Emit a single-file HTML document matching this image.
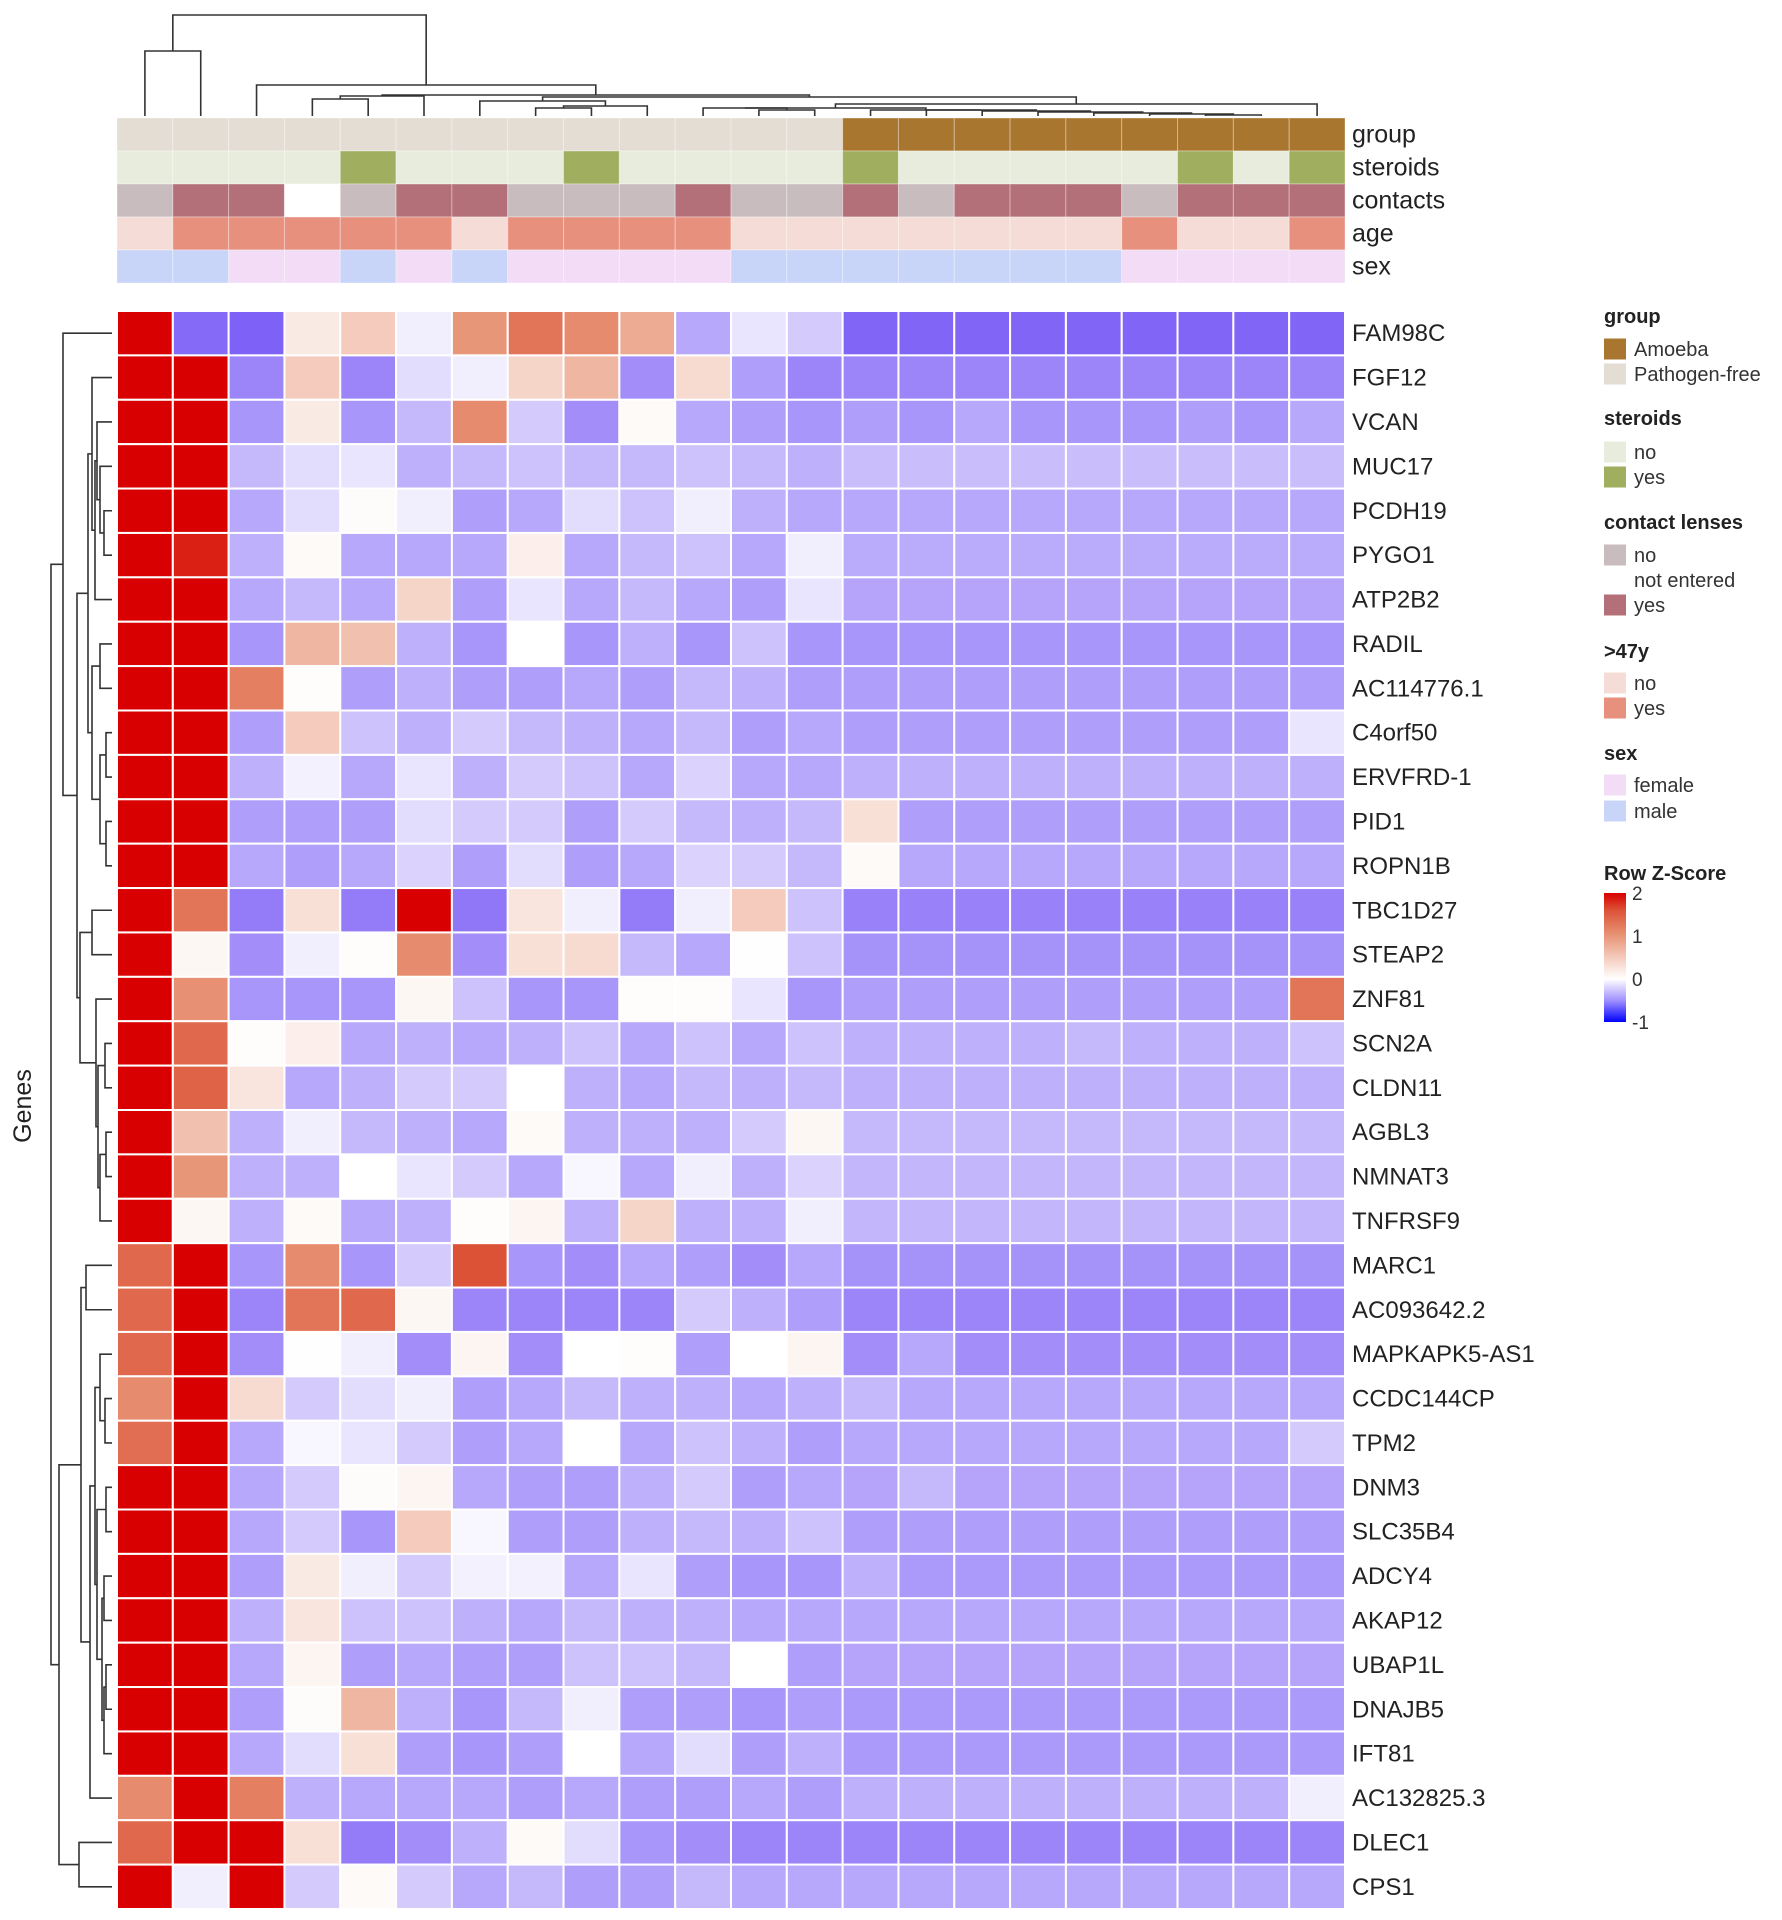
<!DOCTYPE html>
<html><head><meta charset="utf-8"><style>
html,body{margin:0;padding:0;background:#fff;}
svg{display:block;font-family:"Liberation Sans",Arial,sans-serif;}
</style></head><body>
<svg id="chart" width="1782" height="1920" viewBox="0 0 1782 1920" xmlns="http://www.w3.org/2000/svg"></svg>
<script>
const genes = ["FAM98C","FGF12","VCAN","MUC17","PCDH19","PYGO1","ATP2B2","RADIL","AC114776.1","C4orf50","ERVFRD-1","PID1","ROPN1B","TBC1D27","STEAP2","ZNF81","SCN2A","CLDN11","AGBL3","NMNAT3","TNFRSF9","MARC1","AC093642.2","MAPKAPK5-AS1","CCDC144CP","TPM2","DNM3","SLC35B4","ADCY4","AKAP12","UBAP1L","DNAJB5","IFT81","AC132825.3","DLEC1","CPS1"];
const z = [
[2,-0.85,-0.9,0.2,0.5,-0.1,1.0,1.3,1.1,0.8,-0.5,-0.15,-0.3,-0.88,-0.88,-0.88,-0.88,-0.88,-0.88,-0.88,-0.88,-0.88],
[2,2,-0.7,0.5,-0.7,-0.2,-0.1,0.4,0.7,-0.65,0.35,-0.55,-0.7,-0.7,-0.7,-0.7,-0.7,-0.7,-0.7,-0.7,-0.7,-0.7],
[2,2,-0.6,0.2,-0.6,-0.4,1.1,-0.3,-0.65,0.05,-0.5,-0.55,-0.6,-0.55,-0.6,-0.5,-0.6,-0.6,-0.6,-0.55,-0.6,-0.5],
[2,2,-0.4,-0.2,-0.15,-0.45,-0.4,-0.35,-0.4,-0.4,-0.35,-0.4,-0.45,-0.38,-0.38,-0.38,-0.38,-0.38,-0.38,-0.38,-0.38,-0.38],
[2,2,-0.5,-0.2,0.03,-0.1,-0.55,-0.5,-0.2,-0.35,-0.1,-0.45,-0.5,-0.5,-0.5,-0.5,-0.5,-0.5,-0.5,-0.5,-0.5,-0.5],
[2,1.85,-0.45,0.05,-0.5,-0.5,-0.5,0.15,-0.5,-0.4,-0.35,-0.5,-0.1,-0.48,-0.48,-0.48,-0.48,-0.48,-0.48,-0.48,-0.48,-0.48],
[2,2,-0.5,-0.4,-0.5,0.4,-0.55,-0.15,-0.5,-0.4,-0.5,-0.55,-0.15,-0.52,-0.52,-0.52,-0.52,-0.52,-0.52,-0.52,-0.52,-0.52],
[2,2,-0.6,0.7,0.6,-0.45,-0.6,0,-0.6,-0.45,-0.6,-0.35,-0.6,-0.6,-0.6,-0.6,-0.6,-0.6,-0.6,-0.6,-0.6,-0.6],
[2,2,1.2,0.02,-0.55,-0.45,-0.55,-0.55,-0.5,-0.55,-0.4,-0.45,-0.55,-0.55,-0.55,-0.55,-0.55,-0.55,-0.55,-0.55,-0.55,-0.55],
[2,2,-0.55,0.5,-0.35,-0.45,-0.3,-0.4,-0.45,-0.5,-0.4,-0.55,-0.5,-0.55,-0.55,-0.55,-0.55,-0.55,-0.55,-0.55,-0.55,-0.15],
[2,2,-0.45,-0.08,-0.5,-0.15,-0.45,-0.3,-0.35,-0.5,-0.25,-0.5,-0.5,-0.45,-0.45,-0.45,-0.45,-0.45,-0.45,-0.45,-0.45,-0.45],
[2,2,-0.55,-0.55,-0.55,-0.2,-0.3,-0.3,-0.55,-0.3,-0.4,-0.45,-0.4,0.3,-0.55,-0.55,-0.55,-0.55,-0.55,-0.55,-0.55,-0.55],
[2,2,-0.5,-0.55,-0.5,-0.25,-0.55,-0.2,-0.55,-0.5,-0.25,-0.3,-0.4,0.05,-0.5,-0.5,-0.5,-0.5,-0.5,-0.5,-0.5,-0.5],
[2,1.3,-0.75,0.3,-0.75,2.1,-0.78,0.25,-0.1,-0.75,-0.1,0.5,-0.35,-0.72,-0.72,-0.72,-0.72,-0.72,-0.72,-0.72,-0.72,-0.72],
[2,0.08,-0.65,-0.1,0.02,1.1,-0.65,0.3,0.35,-0.4,-0.5,0.01,-0.35,-0.62,-0.62,-0.62,-0.62,-0.62,-0.62,-0.62,-0.62,-0.62],
[2,1.05,-0.6,-0.6,-0.6,0.08,-0.35,-0.6,-0.6,0.02,0.02,-0.15,-0.6,-0.55,-0.55,-0.55,-0.55,-0.55,-0.55,-0.55,-0.55,1.3],
[2,1.4,0.02,0.15,-0.5,-0.45,-0.5,-0.45,-0.35,-0.5,-0.35,-0.5,-0.35,-0.45,-0.45,-0.45,-0.45,-0.4,-0.45,-0.45,-0.45,-0.35],
[2,1.45,0.25,-0.5,-0.45,-0.3,-0.3,0,-0.45,-0.5,-0.4,-0.45,-0.4,-0.45,-0.45,-0.45,-0.45,-0.45,-0.45,-0.45,-0.45,-0.45],
[2,0.6,-0.45,-0.1,-0.4,-0.45,-0.5,0.05,-0.45,-0.45,-0.45,-0.3,0.08,-0.4,-0.4,-0.4,-0.4,-0.4,-0.4,-0.4,-0.4,-0.4],
[2,1.0,-0.45,-0.45,0,-0.15,-0.3,-0.5,-0.05,-0.5,-0.1,-0.45,-0.25,-0.42,-0.42,-0.42,-0.42,-0.42,-0.42,-0.42,-0.42,-0.42],
[2,0.08,-0.45,0.05,-0.5,-0.45,0.02,0.1,-0.45,0.4,-0.45,-0.45,-0.1,-0.42,-0.42,-0.42,-0.42,-0.42,-0.42,-0.42,-0.42,-0.42],
[1.4,2,-0.6,1.1,-0.6,-0.3,1.6,-0.6,-0.65,-0.5,-0.55,-0.65,-0.5,-0.62,-0.62,-0.62,-0.62,-0.62,-0.62,-0.62,-0.62,-0.62],
[1.4,2,-0.7,1.3,1.4,0.08,-0.7,-0.7,-0.7,-0.7,-0.3,-0.45,-0.55,-0.7,-0.7,-0.7,-0.7,-0.7,-0.7,-0.7,-0.7,-0.7],
[1.4,2,-0.65,0.01,-0.1,-0.65,0.1,-0.65,0,0.02,-0.55,0,0.1,-0.65,-0.5,-0.65,-0.65,-0.65,-0.65,-0.65,-0.65,-0.65],
[1.1,2,0.35,-0.3,-0.2,-0.1,-0.55,-0.5,-0.4,-0.45,-0.45,-0.5,-0.45,-0.4,-0.5,-0.5,-0.5,-0.5,-0.5,-0.5,-0.5,-0.5],
[1.35,2,-0.5,-0.05,-0.15,-0.3,-0.55,-0.5,0,-0.5,-0.35,-0.45,-0.55,-0.5,-0.5,-0.5,-0.5,-0.5,-0.5,-0.5,-0.5,-0.3],
[2,2,-0.5,-0.3,0.03,0.1,-0.5,-0.55,-0.55,-0.45,-0.3,-0.55,-0.5,-0.52,-0.4,-0.52,-0.52,-0.52,-0.52,-0.52,-0.52,-0.52],
[2,2,-0.5,-0.3,-0.6,0.5,-0.05,-0.55,-0.55,-0.45,-0.4,-0.45,-0.35,-0.55,-0.55,-0.55,-0.55,-0.55,-0.55,-0.55,-0.55,-0.55],
[2,2,-0.55,0.2,-0.1,-0.3,-0.08,-0.08,-0.5,-0.15,-0.55,-0.6,-0.6,-0.45,-0.58,-0.58,-0.58,-0.58,-0.58,-0.58,-0.58,-0.58],
[2,2,-0.45,0.25,-0.35,-0.35,-0.45,-0.5,-0.4,-0.45,-0.45,-0.5,-0.5,-0.5,-0.5,-0.5,-0.5,-0.5,-0.5,-0.5,-0.5,-0.5],
[2,2,-0.5,0.1,-0.55,-0.5,-0.55,-0.55,-0.35,-0.35,-0.4,0,-0.55,-0.52,-0.52,-0.52,-0.52,-0.52,-0.52,-0.52,-0.52,-0.52],
[2,2,-0.55,0.03,0.7,-0.45,-0.6,-0.4,-0.1,-0.55,-0.55,-0.6,-0.55,-0.58,-0.58,-0.58,-0.58,-0.58,-0.58,-0.58,-0.58,-0.58],
[2,2,-0.5,-0.2,0.3,-0.55,-0.6,-0.55,0,-0.5,-0.2,-0.55,-0.45,-0.58,-0.58,-0.58,-0.58,-0.58,-0.58,-0.58,-0.58,-0.58],
[1.1,2,1.2,-0.45,-0.5,-0.5,-0.5,-0.55,-0.5,-0.55,-0.55,-0.5,-0.55,-0.45,-0.45,-0.45,-0.45,-0.45,-0.45,-0.45,-0.45,-0.1],
[1.4,2,2,0.3,-0.75,-0.65,-0.45,0.05,-0.2,-0.6,-0.65,-0.7,-0.7,-0.7,-0.7,-0.7,-0.7,-0.7,-0.7,-0.7,-0.7,-0.7],
[2,-0.1,2,-0.3,0.05,-0.3,-0.5,-0.4,-0.55,-0.55,-0.4,-0.5,-0.5,-0.5,-0.5,-0.5,-0.5,-0.5,-0.5,-0.5,-0.5,-0.5]
];
const groupAnn = ["P","P","P","P","P","P","P","P","P","P","P","P","P","A","A","A","A","A","A","A","A","A"];
const steroidAnn = ["n","n","n","n","y","n","n","n","y","n","n","n","n","y","n","n","n","n","n","y","n","y"];
const contactAnn = ["n","y","y","ne","n","y","y","n","n","n","y","n","n","y","n","y","y","y","n","y","y","y"];
const ageAnn = ["n","y","y","y","y","y","n","y","y","y","y","n","n","n","n","n","n","n","y","n","n","y"];
const sexAnn = ["m","m","f","f","m","f","m","f","f","f","f","m","m","m","m","m","m","m","f","f","f","f"];
const colorTicks = [2,1,0,-1];

const NS="http://www.w3.org/2000/svg";
const svg=document.getElementById("chart");
const X0=117, X1=1345, Y0=311, Y1=1909;
const nC=22, nR=genes.length;
const cw=(X1-X0)/nC, rh=(Y1-Y0)/nR;
const xPos=c=>X0+c*cw, yPos=r=>Y0+r*rh;
const xC=c=>X0+(c+0.5)*cw, yC=r=>Y0+(r+0.5)*rh;
function mk(tag,attrs,parent){const e=document.createElementNS(NS,tag);for(const k in attrs)e.setAttribute(k,attrs[k]);(parent||svg).appendChild(e);return e;}
function lerp(a,b,t){return a.map((v,i)=>Math.round(v+(b[i]-v)*t));}
function zColor(v){
  let c;
  if(v<=0){const t=Math.min(1,-v);c=lerp([255,255,255],[112,80,246],t);}
  else if(v<=1){c=lerp([255,255,255],[232,150,120],v);}
  else if(v<=1.6){c=lerp([232,150,120],[220,82,55],(v-1)/0.6);}
  else {c=lerp([220,82,55],[216,0,0],Math.min(1,(v-1.6)/0.4));}
  return `rgb(${c[0]},${c[1]},${c[2]})`;
}
const hm=mk("g",{});


z.forEach((row,r)=>row.forEach((v,c)=>{
  const rc=mk("rect",{x:xPos(c),y:yPos(r),width:cw,height:rh,fill:zColor(v),stroke:"#fff","stroke-width":2},hm);
  
  
}));
genes.forEach((g,r)=>{
  const t=mk("text",{x:1352,y:yC(r)+8,"font-size":24,fill:"#222"});
  t.textContent=g;
  
  
});
const annCols={
  group:{A:"#a8762e",P:"#e3ddd3"},
  steroids:{n:"#e8ecdc",y:"#9fae5f"},
  contacts:{n:"#c8bcbe",y:"#b47078",ne:"#ffffff"},
  age:{n:"#f5dcd7",y:"#e8907e"},
  sex:{m:"#c8d4f8",f:"#f2dcf6"}
};
const annRows=[["group",groupAnn],["steroids",steroidAnn],["contacts",contactAnn],["age",ageAnn],["sex",sexAnn]];
const aY0=118, ah=33;
annRows.forEach(([name,vals],i)=>{
  vals.forEach((v,c)=>{
    const rc=mk("rect",{x:xPos(c),y:aY0+i*ah,width:cw,height:ah,fill:annCols[name][v],stroke:"rgba(255,255,255,0.35)","stroke-width":1});
    
    
  });
  const t=mk("text",{x:1352,y:aY0+i*ah+ah/2+8,"font-size":25,fill:"#222"});
  t.textContent=name;
  
  
});
const colTree=[[0,1,51],[2,[[[3,4,99],5,96],[[6,[[7,8,108],9,106],101],[[[10,[11,12,110],108],[13,[14,[15,[16,[17,[18,[19,20,115],114],113],112],111],110],110],108],21,104],97],95],85],15];
const rowTree=[[0,[[[1,[[2,[3,[4,5,104],100],97],6,95],92],[[7,8,100],[[9,10,106],[11,12,106],100],92],88],[[13,14,92],[15,[[16,17,105],[[18,19,106],20,100],98],96],80],77],63],[[[21,22,86],[[[23,[24,25,105],100],[[26,27,106],[[28,29,104],[[30,31,106],32,104],102],97],95],33,90],81],[34,35,79],59],51];
const dg=mk("g",{stroke:"#333","stroke-width":1.6,fill:"none"});


function drawCol(n){
  if(typeof n==="number") return [xC(n),116];
  const a=drawCol(n[0]),b=drawCol(n[1]),h=n[2];
  mk("path",{d:`M${a[0]},${a[1]}V${h}H${b[0]}V${b[1]}`},dg);
  return [(a[0]+b[0])/2,h];
}
function drawRow(n){
  if(typeof n==="number") return [112,yC(n)];
  const a=drawRow(n[0]),b=drawRow(n[1]),h=n[2];
  mk("path",{d:`M${a[0]},${a[1]}H${h}V${b[1]}H${b[0]}`},dg);
  return [h,(a[1]+b[1])/2];
}
drawCol(colTree);drawRow(rowTree);
const gt=mk("text",{x:0,y:0,"font-size":25,fill:"#222","text-anchor":"middle",transform:"translate(31,1106) rotate(-90)"});
gt.textContent="Genes";


function legTitle(txt,y){const t=mk("text",{x:1604,y:y,"font-size":20,"font-weight":"bold",fill:"#222"});t.textContent=txt;}
function legItem(txt,col,cy){
  if(col){const s=mk("rect",{x:1604,y:cy-10.5,width:22,height:21,fill:col});}
  const t=mk("text",{x:1634,y:cy+7,"font-size":20,fill:"#333"});t.textContent=txt;
  
}
legTitle("group",323);legItem("Amoeba","#a8762e",349);legItem("Pathogen-free","#e3ddd3",374);
legTitle("steroids",425);legItem("no","#e8ecdc",452);legItem("yes","#9fae5f",477);
legTitle("contact lenses",529);legItem("no","#c8bcbe",555);legItem("not entered",null,580);legItem("yes","#b47078",605);
legTitle(">47y",658);legItem("no","#f5dcd7",683);legItem("yes","#e8907e",708);
legTitle("sex",760);legItem("female","#f2dcf6",785);legItem("male","#c8d4f8",811);
legTitle("Row Z-Score",880);
const defs=mk("defs",{});
const lg=mk("linearGradient",{id:"zg",x1:0,y1:0,x2:0,y2:1},defs);
const zTop=893,zBot=1022,zU=(zBot-zTop)/3;
[2,1.6,1,0.5,0,-0.5,-1].forEach(v=>mk("stop",{offset:(2-v)/3,"stop-color":v<=-1?"#0000ff":(v<0?"#a090ff":zColor(v))},lg));
const cb=mk("rect",{x:1604,y:zTop,width:22,height:zBot-zTop,fill:"url(#zg)"});

colorTicks.forEach(v=>{
  const y=zTop+(2-v)*zU;
  const t=mk("text",{x:1632,y:y+7,"font-size":19,fill:"#333"});t.textContent=String(v);
  
});
</script>
</body></html>
